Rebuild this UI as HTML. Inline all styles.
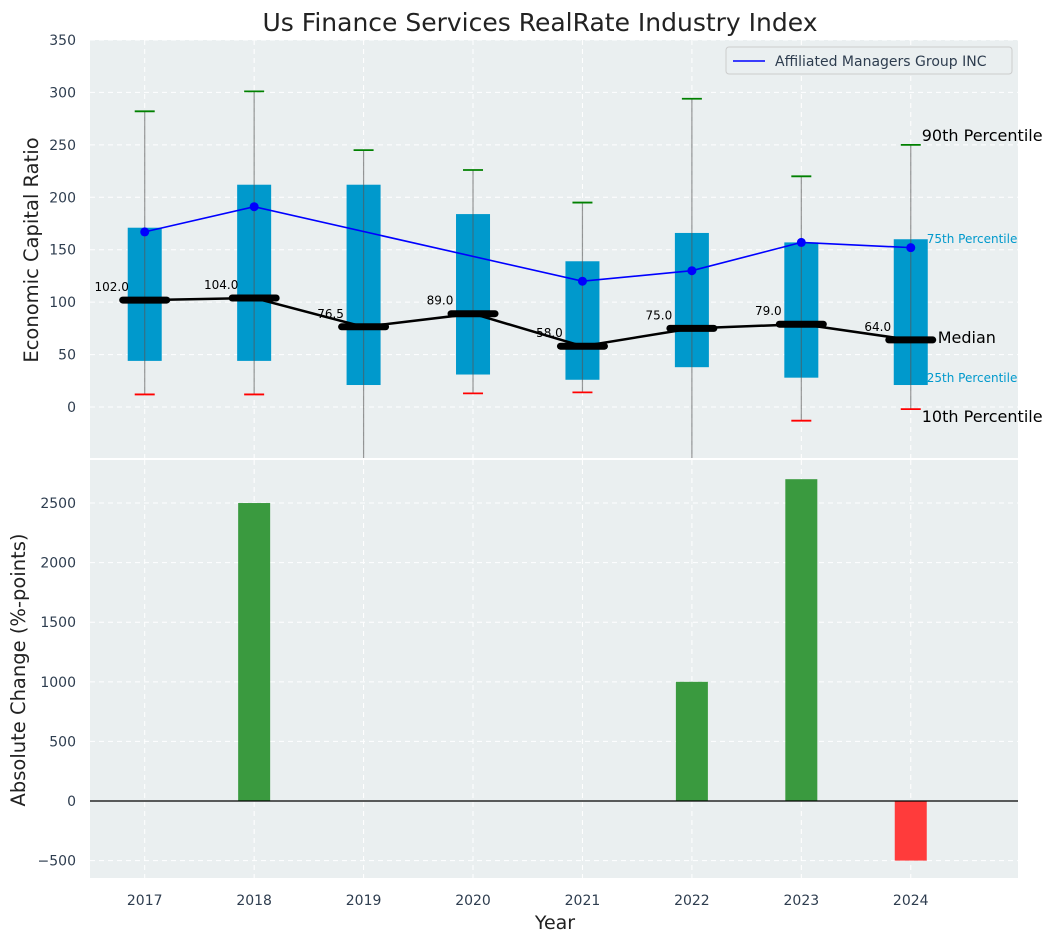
<!DOCTYPE html>
<html><head><meta charset="utf-8">
<style>
body{margin:0;background:#fff;font-family:"Liberation Sans","DejaVu Sans",sans-serif;}
svg text{font-family:"DejaVu Sans","Liberation Sans",sans-serif;}
</style></head>
<body>
<svg id="chart" width="1057" height="942" xmlns="http://www.w3.org/2000/svg"></svg>
<script>
const years=[2017,2018,2019,2020,2021,2022,2023,2024];
const p10=[12,12,-100,13,14,-100,-13,-2];
const p25=[44,44,21,31,26,38,28,21];
const medians=[102,104,76.5,89,58,75,79,64];
const p75=[171,212,212,184,139,166,157,160];
const p90=[282,301,245,226,195,294,220,250];
const amg=[167,191,null,null,120,130,157,152];
const changes=[0,2500,0,0,0,1000,2700,-500];
const topTicks=[0,50,100,150,200,250,300,350];
const botTicks=[-500,0,500,1000,1500,2000,2500];

const NS="http://www.w3.org/2000/svg";
const svg=document.getElementById('chart');
function el(tag,attrs,parent){const e=document.createElementNS(NS,tag);for(const k in attrs)e.setAttribute(k,attrs[k]);(parent||svg).appendChild(e);return e;}
const X0=90,X1=1018;
const xs=v=>X0+(v-2016.5)/(2024.98-2016.5)*(X1-X0);
const T0=40,T1=458;
const ys=v=>T0+(350-v)/(350-(-48.6))*(T1-T0);
const B0=460,B1=878;
const yb=v=>B0+(2861-v)/(2861-(-646))*(B1-B0);

let r=el('rect',{x:X0,y:T0,width:X1-X0,height:T1-T0,fill:'#eaeff0'});

r=el('rect',{x:X0,y:B0,width:X1-X0,height:B1-B0,fill:'#eaeff0'});


years.forEach(y=>{
  el('line',{x1:xs(y),x2:xs(y),y1:T0,y2:T1,stroke:'#fff','stroke-dasharray':'5,4','stroke-width':1});
  el('line',{x1:xs(y),x2:xs(y),y1:B0,y2:B1,stroke:'#fff','stroke-dasharray':'5,4','stroke-width':1});
});
topTicks.forEach(t=>{
  el('line',{x1:X0,x2:X1,y1:ys(t),y2:ys(t),stroke:'#fff','stroke-dasharray':'5,4'});
  const tx=el('text',{x:X0-14,y:ys(t)+5,'text-anchor':'end','font-size':14,fill:'#2e3d4f'});tx.textContent=t;
  
});
botTicks.forEach(t=>{
  el('line',{x1:X0,x2:X1,y1:yb(t),y2:yb(t),stroke:'#fff','stroke-dasharray':'5,4'});
  const tx=el('text',{x:X0-14,y:yb(t)+5,'text-anchor':'end','font-size':14,fill:'#2e3d4f'});tx.textContent=t<0?'\u2212'+(-t):t;
  
});

const defs=el('defs',{});
const cp=el('clipPath',{id:'ct'},defs);el('rect',{x:X0,y:T0,width:X1-X0,height:T1-T0},cp);
const gt=el('g',{'clip-path':'url(#ct)'});

years.forEach((y,i)=>{
  const b=el('rect',{x:xs(y)-17,y:ys(p75[i]),width:34,height:ys(p25[i])-ys(p75[i]),fill:'#0099cc'},gt);
  
  const w=el('line',{x1:xs(y),x2:xs(y),y1:ys(p90[i]),y2:ys(p10[i]),stroke:'#555','stroke-opacity':0.6,'stroke-width':1.2},gt);
  
  el('line',{x1:xs(y)-10,x2:xs(y)+10,y1:ys(p90[i]),y2:ys(p90[i]),stroke:'green','stroke-width':1.8},gt);
  el('line',{x1:xs(y)-10,x2:xs(y)+10,y1:ys(p10[i]),y2:ys(p10[i]),stroke:'red','stroke-width':1.8},gt);
});
years.forEach((y,i)=>{
  const t=el('text',{x:xs(y)-33,y:ys(medians[i])-9,'text-anchor':'middle','font-size':12,fill:'#000'},gt);
  t.textContent=medians[i].toFixed(1);
  
});
let d=years.map((y,i)=>(i?'L':'M')+xs(y)+','+ys(medians[i])).join(' ');
let p=el('path',{d:d,fill:'none',stroke:'#000','stroke-width':2.5},gt);

years.forEach((y,i)=>{
  const m=el('line',{x1:xs(y)-22,x2:xs(y)+22,y1:ys(medians[i]),y2:ys(medians[i]),stroke:'#000','stroke-width':7,'stroke-linecap':'round'},gt);
  
});
const pts=years.map((y,i)=>[y,amg[i]]).filter(a=>a[1]!==null);
d=pts.map((a,i)=>(i?'L':'M')+xs(a[0])+','+ys(a[1])).join(' ');
p=el('path',{d:d,fill:'none',stroke:'#0000ff','stroke-width':1.6},gt);

pts.forEach(a=>{const c=el('circle',{cx:xs(a[0]),cy:ys(a[1]),r:4.5,fill:'#0000ff'},gt);
  });

const last=years.length-1, lx=xs(years[last]);
[[p90[last],'90th Percentile',16,'#000',lx+11,-4],[p75[last],'75th Percentile',12,'#0099cc',lx+16,4],
 [medians[last],'Median',16,'#000',lx+27,3],[p25[last],'25th Percentile',12,'#0099cc',lx+16,-3],[p10[last],'10th Percentile',16,'#000',lx+11,13]]
.forEach(a=>{const t=el('text',{x:a[4],y:ys(a[0])+a[5],'font-size':a[2],fill:a[3]});t.textContent=a[1];
 });

const lg=el('g',{});
el('rect',{x:726,y:47,width:286,height:27,rx:3,fill:'#eaeff0',stroke:'#ccc'},lg);
el('line',{x1:733,x2:765,y1:61,y2:61,stroke:'#0000ff','stroke-width':1.6},lg);
let t=el('text',{x:775,y:66,'font-size':14,fill:'#2e3d4f'},lg);t.textContent='Affiliated Managers Group INC';

const cb=el('clipPath',{id:'cb'},defs);el('rect',{x:X0,y:B0,width:X1-X0,height:B1-B0},cb);
const gb=el('g',{'clip-path':'url(#cb)'});
years.forEach((y,i)=>{
  if(!changes[i])return;
  const v=changes[i];
  const b=el('rect',{x:xs(y)-16,y:Math.min(yb(v),yb(0)),width:32,height:Math.abs(yb(v)-yb(0)),fill:v>0?'#3a9a3f':'#ff3b3b'},gb);
  
});
el('line',{x1:X0,x2:X1,y1:yb(0),y2:yb(0),stroke:'#000','stroke-width':1.2});

years.forEach(y=>{const tx=el('text',{x:xs(y),y:905,'text-anchor':'middle','font-size':14,fill:'#2e3d4f'});tx.textContent=y;
 });

t=el('text',{x:540,y:31,'text-anchor':'middle','font-size':25,fill:'#222'});t.textContent='Us Finance Services RealRate Industry Index';

t=el('text',{x:555,y:929,'text-anchor':'middle','font-size':19,fill:'#222'});t.textContent='Year';

t=el('text',{x:0,y:0,'text-anchor':'middle','font-size':19.5,fill:'#222',transform:'translate(38,250) rotate(-90)'});t.textContent='Economic Capital Ratio';

t=el('text',{x:0,y:0,'text-anchor':'middle','font-size':19.5,fill:'#222',transform:'translate(25,670) rotate(-90)'});t.textContent='Absolute Change (%-points)';

</script>
</body></html>
